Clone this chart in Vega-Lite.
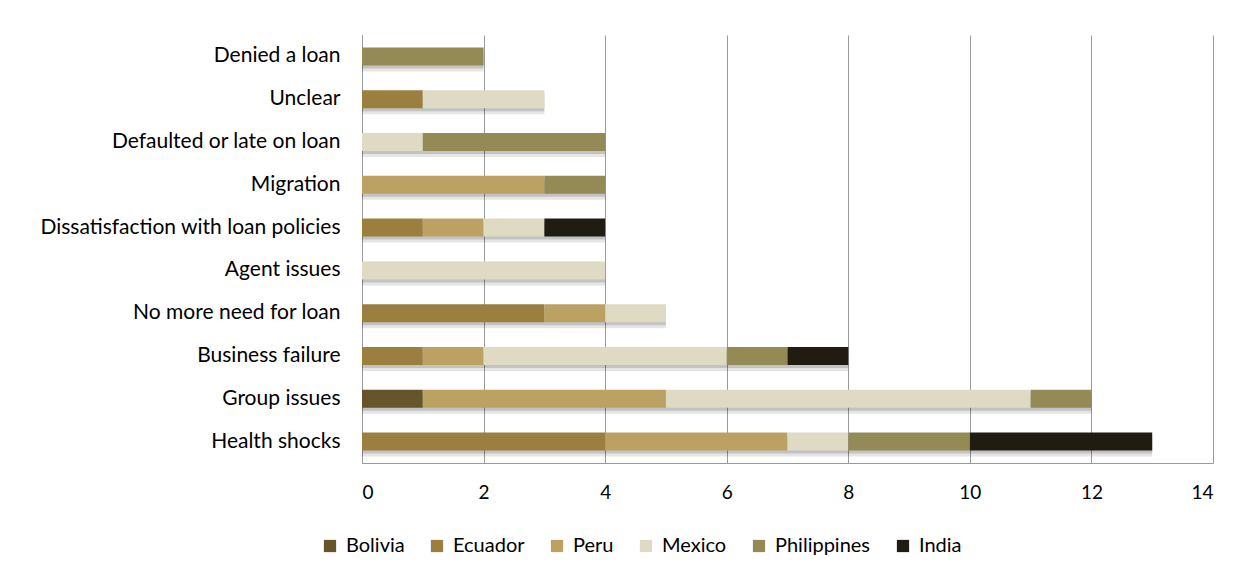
{
  "$schema": "https://vega.github.io/schema/vega-lite/v6.json",
  "width": 851,
  "height": 428,
  "padding": {"left": 39, "top": 35, "right": 20, "bottom": 10},
  "background": "white",
  "config": {
    "font": "Lato",
    "view": {"stroke": null}
  },
  "data": {
    "values": [
      {"reason": "Denied a loan", "country": "Philippines", "n": 2},
      {"reason": "Unclear", "country": "Ecuador", "n": 1},
      {"reason": "Unclear", "country": "Mexico", "n": 2},
      {"reason": "Defaulted or late on loan", "country": "Mexico", "n": 1},
      {"reason": "Defaulted or late on loan", "country": "Philippines", "n": 3},
      {"reason": "Migration", "country": "Peru", "n": 3},
      {"reason": "Migration", "country": "Philippines", "n": 1},
      {"reason": "Dissatisfaction with loan policies", "country": "Ecuador", "n": 1},
      {"reason": "Dissatisfaction with loan policies", "country": "Peru", "n": 1},
      {"reason": "Dissatisfaction with loan policies", "country": "Mexico", "n": 1},
      {"reason": "Dissatisfaction with loan policies", "country": "India", "n": 1},
      {"reason": "Agent issues", "country": "Mexico", "n": 4},
      {"reason": "No more need for loan", "country": "Ecuador", "n": 3},
      {"reason": "No more need for loan", "country": "Peru", "n": 1},
      {"reason": "No more need for loan", "country": "Mexico", "n": 1},
      {"reason": "Business failure", "country": "Ecuador", "n": 1},
      {"reason": "Business failure", "country": "Peru", "n": 1},
      {"reason": "Business failure", "country": "Mexico", "n": 4},
      {"reason": "Business failure", "country": "Philippines", "n": 1},
      {"reason": "Business failure", "country": "India", "n": 1},
      {"reason": "Group issues", "country": "Bolivia", "n": 1},
      {"reason": "Group issues", "country": "Peru", "n": 4},
      {"reason": "Group issues", "country": "Mexico", "n": 6},
      {"reason": "Group issues", "country": "Philippines", "n": 1},
      {"reason": "Health shocks", "country": "Ecuador", "n": 4},
      {"reason": "Health shocks", "country": "Peru", "n": 3},
      {"reason": "Health shocks", "country": "Mexico", "n": 1},
      {"reason": "Health shocks", "country": "Philippines", "n": 2},
      {"reason": "Health shocks", "country": "India", "n": 3}
    ]
  },
  "transform": [
    {"calculate": "indexof(['Bolivia','Ecuador','Peru','Mexico','Philippines','India'], datum.country)", "as": "stackOrder"}
  ],
  "encoding": {
    "y": {
      "field": "reason",
      "type": "nominal",
      "sort": ["Denied a loan", "Unclear", "Defaulted or late on loan", "Migration", "Dissatisfaction with loan policies", "Agent issues", "No more need for loan", "Business failure", "Group issues", "Health shocks"],
      "scale": {"paddingInner": 0.58, "paddingOuter": 0.29},
      "axis": {
        "title": null,
        "domain": true,
        "domainColor": "#9a9a9a",
        "ticks": false,
        "labelFont": "Lato",
        "labelFontSize": 21,
        "labelColor": "#000000",
        "labelPadding": 22,
        "labelLimit": 400
      }
    }
  },
  "layer": [
    {
      "mark": {"type": "bar", "color": "#000000", "opacity": 0.1, "yOffset": 6},
      "encoding": {
        "x": {"aggregate": "sum", "field": "n", "type": "quantitative", "stack": null, "scale": {"domain": [0, 14]}}
      }
    },
    {
      "mark": {"type": "bar", "color": "#000000", "opacity": 0.15, "yOffset": 3},
      "encoding": {
        "x": {"aggregate": "sum", "field": "n", "type": "quantitative", "stack": null, "scale": {"domain": [0, 14]}}
      }
    },
    {
      "mark": {"type": "bar"},
      "encoding": {
        "x": {
          "field": "n",
          "type": "quantitative",
          "stack": "zero",
          "scale": {"domain": [0, 14]},
          "axis": {
            "title": null,
            "values": [0, 2, 4, 6, 8, 10, 12, 14],
            "format": "d",
            "grid": true,
            "gridColor": "#9a9a9a",
            "gridWidth": 1,
            "domain": true,
            "domainColor": "#9a9a9a",
            "ticks": false,
            "labelFont": "Lato",
            "labelFontSize": 19,
            "labelColor": "#000000",
            "labelPadding": 20
          }
        },
        "order": {"field": "stackOrder", "type": "quantitative"},
        "color": {
          "field": "country",
          "type": "nominal",
          "scale": {
            "domain": ["Bolivia", "Ecuador", "Peru", "Mexico", "Philippines", "India"],
            "range": ["#66552b", "#9a7f3e", "#bba162", "#dedac4", "#938a56", "#201c12"]
          },
          "legend": {
            "title": null,
            "orient": "none",
            "legendX": -42,
            "legendY": 501,
            "direction": "horizontal",
            "symbolType": "square",
            "symbolSize": 150,
            "symbolStrokeWidth": 0,
            "labelFont": "Lato",
            "labelFontSize": 20,
            "labelColor": "#000000",
            "columnPadding": 22,
            "labelOffset": 6
          }
        }
      }
    }
  ]
}
